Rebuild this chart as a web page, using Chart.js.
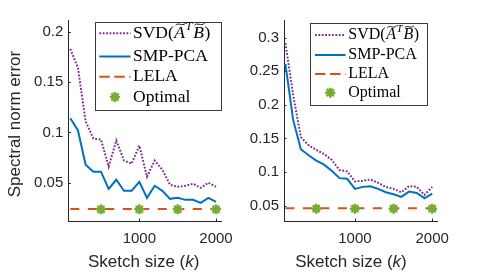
<!DOCTYPE html>
<html>
<head>
<meta charset="utf-8">
<script src="https://cdn.jsdelivr.net/npm/chart.js@4.4.0/dist/chart.umd.min.js"></script>
<style>
  html, body { margin: 0; padding: 0; background: #fff; }
  #wrap { position: relative; width: 490px; height: 275px; }
  canvas { position: absolute; top: 0; }
</style>
</head>
<body>
<div id="wrap">
  <canvas id="left" width="245" height="275" style="left:0"></canvas>
  <canvas id="right" width="245" height="275" style="left:245px"></canvas>
</div>
<script>
// sketch sizes (k)
const sizes = [100, 200, 300, 400, 500, 600, 700, 800, 900, 1000,
               1100, 1200, 1300, 1400, 1500, 1600, 1700, 1800, 1900, 2000];
const xTickVals = [1000, 2000];
const leftYTicks = [0.05, 0.1, 0.15, 0.2];
const rightYTicks = [0.05, 0.1, 0.15, 0.2, 0.25, 0.3];

// left panel
const leftSvd = [0.183, 0.164, 0.111, 0.094, 0.093, 0.066, 0.092, 0.072, 0.069, 0.087,
                 0.056, 0.072, 0.063, 0.048, 0.046, 0.047, 0.049, 0.045, 0.050, 0.046];
const leftSmp = [0.114, 0.102, 0.068, 0.061, 0.061, 0.044, 0.053, 0.042, 0.042, 0.051,
                 0.035, 0.047, 0.042, 0.034, 0.035, 0.033, 0.033, 0.030, 0.035, 0.031];

// right panel
const rightSvd = [0.292, 0.215, 0.152, 0.140, 0.133, 0.127, 0.118, 0.103, 0.101, 0.086,
                  0.087, 0.089, 0.084, 0.078, 0.075, 0.070, 0.079, 0.078, 0.066, 0.078];
const rightSmp = [0.261, 0.178, 0.134, 0.125, 0.117, 0.111, 0.102, 0.091, 0.090, 0.075,
                  0.078, 0.079, 0.075, 0.070, 0.067, 0.063, 0.071, 0.069, 0.061, 0.068];

const lelaSizes = [100, 2000];
const leftLela = [0.0238, 0.0238];
const rightLela = [0.046, 0.046];
const optSizes = [500, 1000, 1500, 2000];
const leftOpt = [0.0236, 0.0236, 0.0236, 0.0236];
const rightOpt = [0.0455, 0.0455, 0.0455, 0.0455];

const legendLabels = ["SVD", "SMP-PCA", "LELA", "Optimal"];

const PURPLE = "#7E2F8E", BLUE = "#0072BD", ORANGE = "#D95319", GREEN = "#77AC30";
const AX = "#262626";
const SANS = '"Liberation Sans", Arial, sans-serif';
const SERIF = '"Liberation Serif", "Times New Roman", serif';

function pair(xs, ys) {
  return xs.map((x, i) => ({ x: x, y: ys[i] }));
}

function drawStar(ctx, x, y, r, w) {
  ctx.save();
  ctx.strokeStyle = GREEN;
  ctx.lineWidth = w;
  ctx.beginPath();
  for (let k = 0; k < 4; k++) {
    const a = k * Math.PI / 4;
    ctx.moveTo(x - r * Math.cos(a), y - r * Math.sin(a));
    ctx.lineTo(x + r * Math.cos(a), y + r * Math.sin(a));
  }
  ctx.stroke();
  ctx.restore();
}

function tilde(ctx, cx, ty, w) {
  ctx.save();
  ctx.lineWidth = 0.9;
  ctx.strokeStyle = "#000";
  ctx.beginPath();
  const x0 = cx - w / 2;
  ctx.moveTo(x0, ty + 1);
  ctx.bezierCurveTo(x0 + w * 0.3, ty - 2.2, x0 + w * 0.6, ty + 2.6, x0 + w, ty - 1);
  ctx.stroke();
  ctx.restore();
}

// SVD(A~^T B~) in a LaTeX-ish way
function drawSvdLabel(ctx, x, y, fs) {
  ctx.fillStyle = "#000";
  ctx.textBaseline = "middle";
  ctx.textAlign = "left";
  ctx.font = fs + "px " + SERIF;
  ctx.fillText("SVD(", x, y);
  x += ctx.measureText("SVD(").width + 0.5;
  ctx.font = "italic " + fs + "px " + SERIF;
  const wa = ctx.measureText("A").width;
  ctx.fillText("A", x, y);
  tilde(ctx, x + wa / 2 + 1, y - fs * 0.52, wa * 0.95);
  x += wa + 0.5;
  ctx.font = "italic " + Math.round(fs * 0.68) + "px " + SERIF;
  ctx.fillText("T", x, y - fs * 0.36);
  x += ctx.measureText("T").width + 1;
  ctx.font = "italic " + fs + "px " + SERIF;
  const wb = ctx.measureText("B").width;
  ctx.fillText("B", x, y);
  tilde(ctx, x + wb / 2 + 1, y - fs * 0.52, wb * 0.95);
  x += wb + 0.5;
  ctx.font = fs + "px " + SERIF;
  ctx.fillText(")", x, y);
}

function makeDecor(cfg) {
  return {
    id: "decor",
    afterDraw(chart) {
      const ctx = chart.ctx;
      const xs = chart.scales.x, ys = chart.scales.y;
      const a = chart.chartArea;
      ctx.save();
      // inward tick marks
      ctx.strokeStyle = AX;
      ctx.lineWidth = 1;
      ctx.beginPath();
      xTickVals.forEach(v => {
        const px = Math.round(xs.getPixelForValue(v)) + 0.5;
        ctx.moveTo(px, a.bottom);
        ctx.lineTo(px, a.bottom - 2.5);
      });
      cfg.yTicks.forEach(v => {
        const py = Math.round(ys.getPixelForValue(v)) + 0.5;
        ctx.moveTo(a.left, py);
        ctx.lineTo(a.left + 2.5, py);
      });
      ctx.stroke();

      // x axis title: Sketch size (k)
      ctx.fillStyle = AX;
      ctx.textBaseline = "alphabetic";
      ctx.textAlign = "left";
      const f1 = "17px " + SANS, f2 = "italic 17px " + SANS;
      ctx.font = f1;
      const wA = ctx.measureText("Sketch size (").width;
      const wC = ctx.measureText(")").width;
      ctx.font = f2;
      const wB = ctx.measureText("k").width;
      let tx = cfg.xTitleX - (wA + wB + wC) / 2;
      ctx.font = f1; ctx.fillText("Sketch size (", tx, 267);
      ctx.font = f2; ctx.fillText("k", tx + wA, 267);
      ctx.font = f1; ctx.fillText(")", tx + wA + wB, 267);

      // y axis title
      if (cfg.yTitle) {
        ctx.save();
        ctx.translate(19.7, 124);
        ctx.rotate(-Math.PI / 2);
        ctx.textAlign = "center";
        ctx.font = "17px " + SANS;
        ctx.fillText(cfg.yTitle, 0, 0);
        ctx.restore();
      }

      // legend
      const L = cfg.legend;
      ctx.fillStyle = "#fff";
      ctx.fillRect(L.x0, L.y0, L.x1 - L.x0, L.y1 - L.y0);
      ctx.strokeStyle = "#3a3a3a";
      ctx.lineWidth = 1;
      ctx.strokeRect(Math.round(L.x0) + 0.5, Math.round(L.y0) + 0.5,
                     Math.round(L.x1 - L.x0), Math.round(L.y1 - L.y0));
      ctx.lineWidth = 2;
      // dotted
      ctx.strokeStyle = PURPLE;
      ctx.setLineDash([1.8, 1.6]);
      ctx.beginPath(); ctx.moveTo(L.lx0, L.rows[0]); ctx.lineTo(L.lx1, L.rows[0]); ctx.stroke();
      // solid
      ctx.strokeStyle = BLUE;
      ctx.setLineDash([]);
      ctx.beginPath(); ctx.moveTo(L.lx0, L.rows[1]); ctx.lineTo(L.lx1, L.rows[1]); ctx.stroke();
      // dashed
      ctx.strokeStyle = ORANGE;
      ctx.setLineDash([10.5, 4.5]);
      ctx.beginPath(); ctx.moveTo(L.lx0, L.rows[2]); ctx.lineTo(L.lx1, L.rows[2]); ctx.stroke();
      ctx.setLineDash([]);
      drawStar(ctx, (L.lx0 + L.lx1) / 2, L.rows[3], 5, 2.5);

      drawSvdLabel(ctx, L.tx, L.rows[0], L.fs);
      ctx.fillStyle = "#000";
      ctx.font = L.fs + "px " + SERIF;
      ctx.textBaseline = "middle";
      ctx.textAlign = "left";
      for (let i = 1; i < 4; i++) ctx.fillText(legendLabels[i], L.tx, L.rows[i]);
      ctx.restore();
    }
  };
}

function makeChart(id, cfg) {
  return new Chart(document.getElementById(id), {
    type: "line",
    data: {
      datasets: [
        {
          label: "Optimal",
          data: pair(optSizes, cfg.opt),
          showLine: false,
          pointStyle: "star",
          pointRadius: 5,
          pointBorderWidth: 2.5,
          pointBorderColor: GREEN,
          pointBackgroundColor: GREEN
        },
        {
          label: "LELA",
          data: pair(lelaSizes, cfg.lela),
          borderColor: ORANGE,
          borderWidth: 2,
          borderDash: [9, 8.5],
          pointRadius: 0
        },
        {
          label: "SMP-PCA",
          data: pair(sizes, cfg.smp),
          borderColor: BLUE,
          borderWidth: 2,
          pointRadius: 0
        },
        {
          label: "SVD",
          data: pair(sizes, cfg.svd),
          borderColor: PURPLE,
          borderWidth: 2,
          borderDash: [1.8, 1.6],
          pointRadius: 0
        }
      ]
    },
    options: {
      responsive: false,
      animation: false,
      devicePixelRatio: 1,
      layout: { padding: { left: 0, top: 20.7, right: cfg.padRight, bottom: 0 } },
      plugins: { legend: { display: false }, tooltip: { enabled: false } },
      scales: {
        x: {
          type: "linear",
          min: cfg.xMin,
          max: cfg.xMax,
          afterBuildTicks: s => { s.ticks = xTickVals.map(v => ({ value: v })); },
          afterFit: s => { s.height = 54; },
          grid: { display: false, drawTicks: false },
          border: { display: true, color: AX, width: 1 },
          ticks: {
            autoSkip: false, maxRotation: 0, padding: 9,
            color: AX, font: { family: SANS, size: 15 },
            callback: v => String(v)
          }
        },
        y: {
          min: cfg.yMin,
          max: cfg.yMax,
          afterBuildTicks: s => { s.ticks = cfg.yTicks.map(v => ({ value: v })); },
          afterFit: s => { s.width = cfg.yWidth; },
          grid: { display: false, drawTicks: false },
          border: { display: true, color: AX, width: 1 },
          ticks: {
            autoSkip: false, padding: 5,
            color: AX, font: { family: SANS, size: 15 },
            callback: v => String(v)
          }
        }
      }
    },
    plugins: [makeDecor(cfg)]
  });
}

makeChart("left", {
  svd: leftSvd, smp: leftSmp, lela: leftLela, opt: leftOpt,
  xMin: 74, xMax: 2074, yMin: 0.012, yMax: 0.211,
  yTicks: leftYTicks, yWidth: 68.3, padRight: 23.3,
  xTitleX: 143.7, yTitle: "Spectral norm error",
  legend: { x0: 95, y0: 21.5, x1: 220.7, y1: 109, lx0: 99.3, lx1: 130.5, tx: 133,
            rows: [33.3, 56.5, 76.7, 97], fs: 17.5 }
});

makeChart("right", {
  svd: rightSvd, smp: rightSmp, lela: rightLela, opt: rightOpt,
  xMin: 82, xMax: 2066, yMin: 0.0272, yMax: 0.3253,
  yTicks: rightYTicks, yWidth: 39, padRight: 52.7,
  xTitleX: 106, yTitle: null,
  legend: { x0: 65, y0: 23.3, x1: 182.3, y1: 105, lx0: 70, lx1: 100.5, tx: 103.3,
            rows: [35, 55, 74, 92.7], fs: 16 }
});
</script>
</body>
</html>
